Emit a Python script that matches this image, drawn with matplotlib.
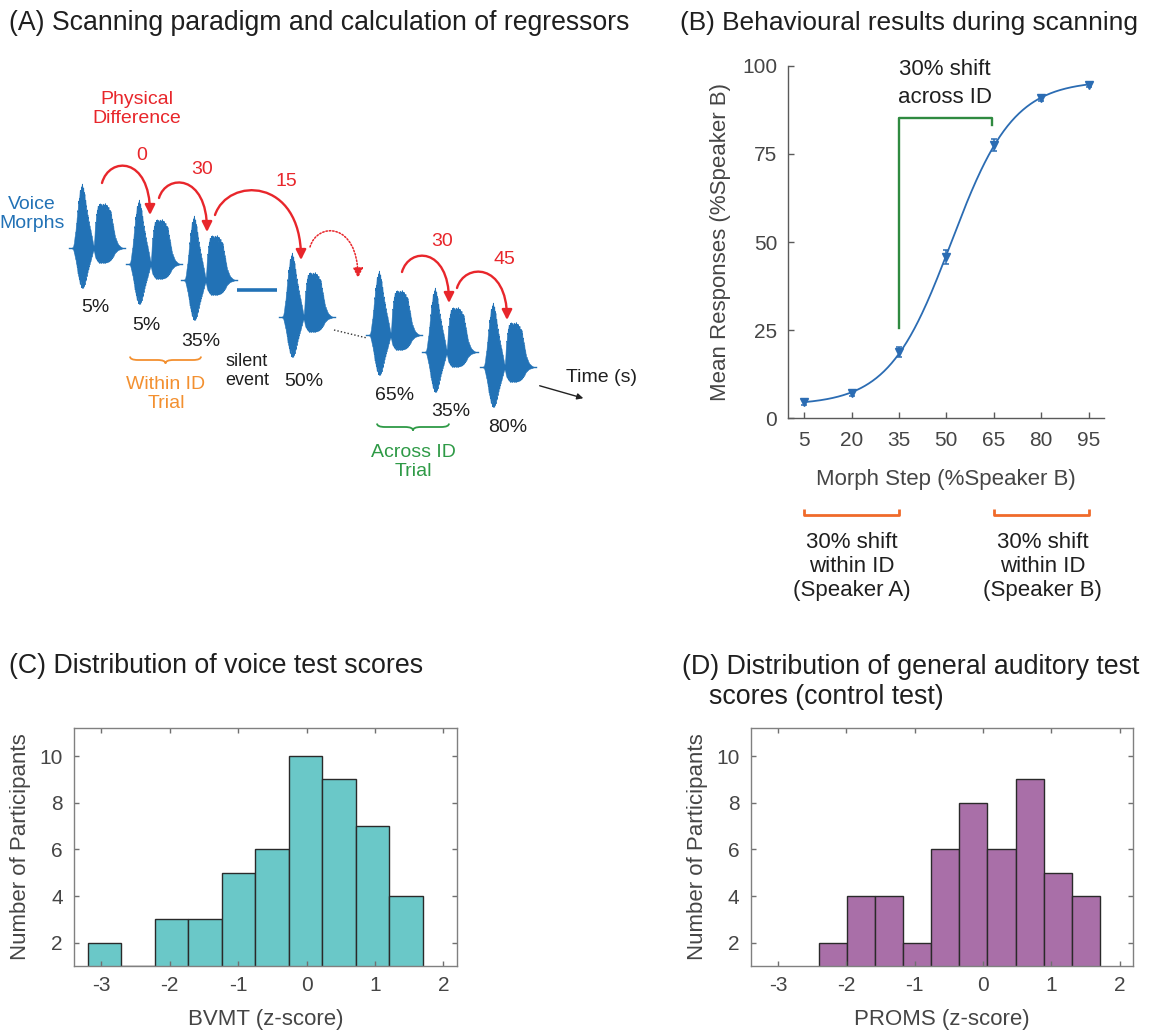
import numpy as np
import matplotlib
matplotlib.use('Agg')
import matplotlib.pyplot as plt
from matplotlib.path import Path
from matplotlib.patches import FancyArrowPatch, PathPatch

plt.rcParams['font.family'] = ['Liberation Sans', 'DejaVu Sans']
plt.rcParams['axes.unicode_minus'] = False

# ---------------- data ----------------
# Panel B: behavioural results
morph_steps = [5, 20, 35, 50, 65, 80, 95]
mean_resp = [4.5, 7.2, 18.8, 45.8, 77.5, 90.9, 94.6]
sem_resp = [0.6, 0.8, 1.3, 1.9, 1.6, 0.9, 0.6]
b_yticks = [0, 25, 50, 75, 100]

# Panel C: BVMT histogram
bvmt_edges = [-3.20, -2.71, -2.22, -1.73, -1.24, -0.75, -0.26, 0.23, 0.72, 1.21, 1.70]
bvmt_counts = [2, 1, 3, 3, 5, 6, 10, 9, 7, 4]
# Panel D: PROMS histogram
proms_edges = [-2.40, -1.99, -1.58, -1.17, -0.76, -0.35, 0.06, 0.48, 0.89, 1.30, 1.71]
proms_counts = [2, 4, 4, 2, 6, 8, 6, 9, 5, 4]
hist_xticks = [-3, -2, -1, 0, 1, 2]
hist_yticks = [2, 4, 6, 8, 10]

# Panel A: scanning paradigm (schematic)
stim_labels = ['5%', '5%', '35%', '50%', '65%', '35%', '80%']
stim_x = [71, 128, 183, 281, 368, 424, 482]
stim_base = [248, 264, 280, 317, 335, 352, 367]
stim_label_x = [95, 146, 201, 304, 395, 451, 508]
stim_label_y = [308, 325, 342, 382, 395, 412, 428]

# waveform envelope of one voice stimulus (two syllables)
wave_dx = [0, 2, 3, 5, 7, 9, 11, 13, 15, 17, 19, 21, 22, 23, 24, 26, 28, 31, 34, 37, 40, 42, 44, 47, 50, 52]
wave_up = [0, 1, 6, 24, 46, 60, 65, 58, 44, 32, 21, 11, 4, 3, 24, 41, 45, 44, 45, 42, 36, 24, 12, 4, 1, 0]
wave_dn = [0, 1, 5, 15, 28, 37, 41, 39, 32, 23, 15, 8, 3, 3, 9, 13, 15, 15, 15, 14, 12, 9, 5, 2, 1, 0]
wave_fuzz = [1.0, 0.9, 0.97, 0.86, 0.94, 1.0, 0.88, 0.96, 0.91, 0.99, 0.87, 0.95]

# physical-difference arrows: start, peak, end (schematic px) and labels
pd_labels = ['0', '30', '15', '', '30', '45']
pd_start = [(102, 183), (159, 198), (215, 215), (310, 247), (402, 272), (457, 288)]
pd_peak_y = [167, 184, 192, 232, 257, 273]
pd_end = [(150, 215), (207, 232), (301, 260), (358, 278), (449, 303), (507, 320)]
pd_label_xy = [(142, 155), (202, 170), (286, 182), (0, 0), (442, 242), (504, 259)]

BLUE = '#2272B6'
RED = '#E8262B'
ORANGE = '#F39030'
GREEN = '#2E9A46'
BGREEN = '#2F8A40'
BORANGE = '#F06A2A'
TXT = '#1f1f1f'
GRAY = '#454545'
SPINE = '#5a5a5a'

W, H = 1150, 1032
fig = plt.figure(figsize=(W / 100, H / 100), dpi=100)

# overlay axes in pixel coordinates for schematic panel and titles
ov = fig.add_axes([0, 0, 1, 1])
ov.set_xlim(0, W)
ov.set_ylim(H, 0)
ov.axis('off')
ov.patch.set_alpha(0)

ov.text(9, 23, '(A) Scanning paradigm and calculation of regressors', fontsize=19.2, color=TXT, va='center', ha='left')
ov.text(680, 23, '(B) Behavioural results during scanning', fontsize=18.9, color=TXT, va='center', ha='left')
ov.text(9, 666, '(C) Distribution of voice test scores', fontsize=19.3, color=TXT, va='center', ha='left')
ov.text(682, 667, '(D) Distribution of general auditory test', fontsize=19.3, color=TXT, va='center', ha='left')
ov.text(709, 697, 'scores (control test)', fontsize=19.3, color=TXT, va='center', ha='left')

# ---- Panel A ----
xf = np.arange(0, 52.01, 0.3)
fz = np.resize(np.array(wave_fuzz), xf.size)
upf = np.interp(xf, wave_dx, wave_up) * fz
dnf = np.interp(xf, wave_dx, wave_dn) * np.roll(fz, 5)
for x0, y0 in zip(stim_x, stim_base):
    ov.fill_between(x0 + xf, y0 - upf, y0 + dnf, color=BLUE, lw=0.4, edgecolor=BLUE)
    ov.plot([x0 - 2, x0 + 54], [y0, y0], color=BLUE, lw=1.0)

for lab, lx, ly in zip(stim_labels, stim_label_x, stim_label_y):
    ov.text(lx, ly, lab, fontsize=14, color=TXT, ha='center', va='center')

# silent event line and dotted connector
ov.plot([237, 277], [290, 290], color=BLUE, lw=2.6, solid_capstyle='butt')
ov.plot([334, 367], [330, 338], color='#333333', lw=1.0, ls=(0, (1, 1.5)))

ov.text(32, 214, 'Voice\nMorphs', fontsize=14, color=BLUE, ha='center', va='center')
ov.text(137, 109, 'Physical\nDifference', fontsize=14, color=RED, ha='center', va='center')
ov.text(247, 371, 'silent\nevent', fontsize=13, color=TXT, ha='center', va='center')
ov.text(166, 394, 'Within ID\nTrial', fontsize=14, color=ORANGE, ha='center', va='center')
ov.text(413, 462, 'Across ID\nTrial', fontsize=14, color=GREEN, ha='center', va='center')
ov.text(601, 378, 'Time (s)', fontsize=14, color=TXT, ha='center', va='center')
ov.add_patch(FancyArrowPatch((537, 385), (586, 399), arrowstyle='-|>', mutation_scale=9,
                             color='#222222', lw=1.0))

for lab, s, py, e, lxy in zip(pd_labels, pd_start, pd_peak_y, pd_end, pd_label_xy):
    sx, sy = s
    ex, ey = e
    c = (py - (sy + ey) / 8.0) / 0.75
    verts = [(sx, sy), (sx + 0.15 * (ex - sx), c), (ex, c), (ex, ey)]
    codes = [Path.MOVETO, Path.CURVE4, Path.CURVE4, Path.CURVE4]
    dotted = (lab == '')
    arr = FancyArrowPatch(path=Path(verts, codes), arrowstyle='-|>', mutation_scale=15,
                          color=RED, lw=1.1 if dotted else 1.7,
                          linestyle=(0, (1, 1.2)) if dotted else '-')
    ov.add_patch(arr)
    if lab:
        ov.text(lxy[0], lxy[1], lab, fontsize=14, color=RED, ha='center', va='center')


def brace(ax, x0, x1, y, h, color):
    xm = (x0 + x1) / 2.0
    q = min(8.0, (x1 - x0) / 6.0)
    verts = [(x0, y), (x0, y + h / 2), (x0 + q, y + h / 2),
             (xm - q, y + h / 2), (xm, y + h / 2), (xm, y + h),
             (xm, y + h / 2), (xm + q, y + h / 2),
             (x1 - q, y + h / 2), (x1, y + h / 2), (x1, y)]
    codes = [Path.MOVETO, Path.CURVE3, Path.CURVE3, Path.LINETO, Path.CURVE3, Path.CURVE3,
             Path.CURVE3, Path.CURVE3, Path.LINETO, Path.CURVE3, Path.CURVE3]
    ax.add_patch(PathPatch(Path(verts, codes), fc='none', ec=color, lw=1.3))


brace(ov, 130, 201, 356.5, 7, ORANGE)
brace(ov, 377, 449, 423.5, 7, GREEN)

# ---- Panel B ----
axB = fig.add_axes([788.3 / W, 1 - 418.3 / H, 316 / W, 352.6 / H])
xs = np.array(morph_steps, float)
ys = np.array(mean_resp, float)
# least-squares logistic fit to the data (grid over centre/slope, linear for floor/range)
X0, S = np.meshgrid(np.arange(40, 62, 0.1), np.arange(4, 20, 0.05), indexing='ij')
G = 1.0 / (1.0 + np.exp(-(xs[None, None, :] - X0[..., None]) / S[..., None]))
gm = G.mean(-1, keepdims=True)
ym = ys.mean()
slope = ((G - gm) * (ys - ym)).sum(-1) / ((G - gm) ** 2).sum(-1)
inter = ym - slope * gm[..., 0]
err = ((inter[..., None] + slope[..., None] * G - ys) ** 2).sum(-1)
i, j = np.unravel_index(np.argmin(err), err.shape)
xfit = np.linspace(morph_steps[0], morph_steps[-1], 300)
yfit = inter[i, j] + slope[i, j] / (1 + np.exp(-(xfit - X0[i, j]) / S[i, j]))
axB.plot(xfit, yfit, color='#2B6CB3', lw=1.3)
axB.errorbar(morph_steps, mean_resp, yerr=sem_resp, fmt='v', color='#2B6CB3', ms=5.5,
             capsize=2.5, elinewidth=1.1, capthick=1.1)
axB.set_xlim(0, 100)
axB.set_ylim(0, 100)
axB.set_xticks(morph_steps)
axB.set_yticks(b_yticks)
for sp in ['top', 'right']:
    axB.spines[sp].set_visible(False)
for sp in ['left', 'bottom']:
    axB.spines[sp].set_color(SPINE)
    axB.spines[sp].set_linewidth(1.0)
axB.tick_params(direction='in', length=4, width=1, color=SPINE, labelsize=15, labelcolor=GRAY)
axB.tick_params(axis='y', pad=8)
axB.tick_params(axis='x', pad=9)
axB.set_ylabel('Mean Responses (%Speaker B)', fontsize=16, color=GRAY, labelpad=8)
axB.set_xlabel('Morph Step (%Speaker B)', fontsize=16, color=GRAY, labelpad=14)
axB.plot([35, 35, 64.5, 64.5], [25.5, 85.3, 85.3, 83.3], color=BGREEN, lw=1.7, clip_on=False)
axB.text(49.5, 95.0, '30% shift\nacross ID', fontsize=16, color=TXT, ha='center', va='center',
         linespacing=1.4, clip_on=False)
for a, b in [(5, 35), (65, 95)]:
    axB.plot([a, a, b, b], [-25.6, -27.5, -27.5, -25.6], color=BORANGE, lw=2.0, clip_on=False,
             solid_capstyle='butt')
axB.text(20, -42.0, '30% shift\nwithin ID\n(Speaker A)', fontsize=16, color=TXT, ha='center',
         va='center', linespacing=1.2, clip_on=False)
axB.text(80.5, -42.0, '30% shift\nwithin ID\n(Speaker B)', fontsize=16, color=TXT, ha='center',
         va='center', linespacing=1.2, clip_on=False)


# ---- Panels C and D ----
def hist_panel(rect, edges, counts, color, xlabel):
    ax = fig.add_axes(rect)
    e = np.array(edges)
    ax.bar(e[:-1], counts, width=np.diff(e), align='edge', color=color, edgecolor='#2a2a2a',
           linewidth=1.0)
    ax.set_xlim(-3.4, 2.2)
    ax.set_ylim(1, 11.2)
    ax.set_xticks(hist_xticks)
    ax.set_yticks(hist_yticks)
    for sp in ax.spines.values():
        sp.set_color('#808080')
        sp.set_linewidth(1.0)
    ax.tick_params(direction='in', length=3.5, width=1, color='#707070', labelsize=15,
                   labelcolor=GRAY, top=True, right=True)
    ax.tick_params(axis='y', pad=8)
    ax.tick_params(axis='x', pad=7)
    ax.set_ylabel('Number of Participants', fontsize=16, color=GRAY, labelpad=6)
    ax.set_xlabel(xlabel, fontsize=16, color=GRAY, labelpad=10)
    return ax


hist_panel([74 / W, 1 - 966 / H, 383 / W, 238 / H], bvmt_edges, bvmt_counts, '#6AC8C8',
           'BVMT (z-score)')
hist_panel([750.7 / W, 1 - 966 / H, 382.6 / W, 238 / H], proms_edges, proms_counts, '#A96FA8',
           'PROMS (z-score)')

fig.savefig('out.png', dpi=100)
